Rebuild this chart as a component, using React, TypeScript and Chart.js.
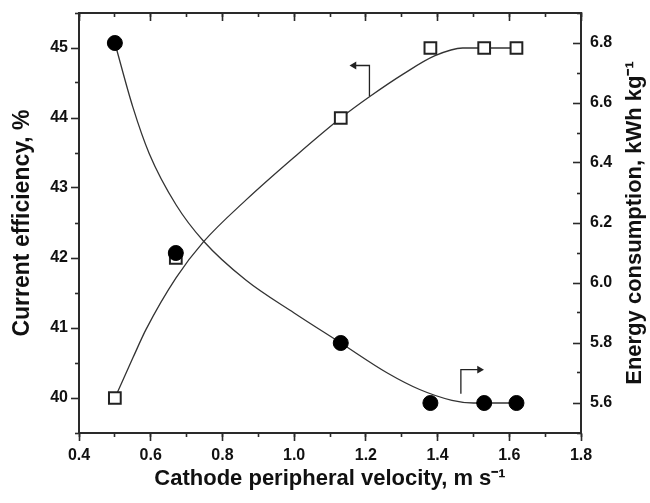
import React, { useEffect, useRef } from 'react';
import { Chart, registerables } from 'chart.js';

Chart.register(...registerables);

// ---- measured data points ----
const velocity = [0.5, 0.67, 1.13, 1.38, 1.53, 1.62];
const currentEfficiency = [40, 42, 44, 45, 45, 45];
const energyConsumption = [6.8, 6.1, 5.8, 5.6, 5.6, 5.6];

// ---- fitted curves ----
const effCurveX = [0.5, 0.55, 0.587, 0.671, 0.747, 0.866, 1.0, 1.13, 1.212, 1.305, 1.393, 1.47, 1.53, 1.62];
const effCurveY = [40.0, 40.57, 40.98, 41.72, 42.23, 42.83, 43.44, 44.0, 44.31, 44.63, 44.89, 45.0, 45.0, 45.0];
const energyCurveX = [0.5, 0.55, 0.596, 0.671, 0.747, 0.866, 1.0, 1.13, 1.26, 1.35, 1.44, 1.5, 1.53, 1.62];
const energyCurveY = [6.8, 6.587, 6.431, 6.26, 6.14, 6.009, 5.9, 5.8, 5.7, 5.645, 5.609, 5.6, 5.6, 5.6];

// ---- axis-indicator arrows ----
const leftArrowX = [1.21, 1.21, 1.167];
const leftArrowY = [44.31, 44.75, 44.75];
const rightArrowX = [1.465, 1.465, 1.517];
const rightArrowY = [5.631, 5.711, 5.711];

// ---- ticks ----
const xTicks = [0.4, 0.6, 0.8, 1.0, 1.2, 1.4, 1.6, 1.8];
const xMinorTicks = [0.4, 0.5, 0.6, 0.7, 0.8, 0.9, 1.0, 1.1, 1.2, 1.3, 1.4, 1.5, 1.6, 1.7, 1.8];
const yLeftTicks = [40, 41, 42, 43, 44, 45];
const yLeftMinorTicks = [39.5, 40.5, 41.5, 42.5, 43.5, 44.5, 45.5];
const yRightTicks = [5.6, 5.8, 6.0, 6.2, 6.4, 6.6, 6.8];
const yRightMinorTicks = [5.5, 5.7, 5.9, 6.1, 6.3, 6.5, 6.7, 6.9];

const xTitle = 'Cathode peripheral velocity, m s\u207B\u00B9';
const yLeftTitle = 'Current efficiency, %';
const yRightTitle = 'Energy consumption, kWh kg\u207B\u00B9';

const FONT = '"Liberation Sans", Arial, Helvetica, sans-serif';
const AXIS = '#2a2a2a';
const TEXT = '#111';

const pts = (xs: number[], ys: number[]) => xs.map((x, i) => ({ x, y: ys[i] }));
const last = (a: number[]) => a[a.length - 1];

const setTicks = (values: number[]) => (scale: any) => {
  scale.ticks = values.map((v) => ({ value: v }));
};

const fixSize = (w: number | null, h: number | null) => (scale: any) => {
  if (w !== null) scale.width = w;
  if (h !== null) scale.height = h;
  scale.paddingTop = 0;
  scale.paddingBottom = 0;
  scale.paddingLeft = 0;
  scale.paddingRight = 0;
};

const rightTitlePlugin = {
  id: 'rightTitle',
  afterDraw(chart: any) {
    const s = chart.scales.y2;
    const ctx = chart.ctx;
    ctx.save();
    ctx.translate(s.right - 15, (chart.chartArea.top + chart.chartArea.bottom) / 2);
    ctx.rotate(-Math.PI / 2);
    ctx.font = `bold 22px ${FONT}`;
    ctx.fillStyle = TEXT;
    ctx.textAlign = 'center';
    ctx.textBaseline = 'middle';
    ctx.fillText(yRightTitle, 0, 0);
    ctx.restore();
  },
};

const minorAxis = (axis: 'x' | 'y', position: string, min: number, max: number, values: number[], len: number, w: number | null, h: number | null) => ({
  type: 'linear',
  axis,
  position,
  min,
  max,
  weight: 0,
  afterBuildTicks: setTicks(values),
  afterFit: fixSize(w, h),
  ticks: { display: false },
  grid: { drawOnChartArea: false, tickLength: len, tickColor: AXIS, tickWidth: 1.6 },
  border: { display: false },
});

export default function App() {
  const ref = useRef<HTMLCanvasElement>(null);

  useEffect(() => {
    const canvas = ref.current;
    if (!canvas) return;
    const tickFont = { family: FONT, size: 16, weight: 'bold' as const };
    const titleFont = { family: FONT, size: 22, weight: 'bold' as const };

    const chart = new Chart(canvas, {
      type: 'scatter',
      data: {
        datasets: [
          {
            label: 'Energy consumption',
            data: pts(velocity, energyConsumption),
            yAxisID: 'y2',
            xAxisID: 'x',
            pointStyle: 'circle',
            pointRadius: 7.5,
            backgroundColor: '#000',
            borderColor: '#000',
            borderWidth: 1,
            showLine: false,
            order: 0,
          },
          {
            label: 'Current efficiency',
            data: pts(velocity, currentEfficiency),
            yAxisID: 'y',
            xAxisID: 'x',
            pointStyle: 'rect',
            pointRadius: 8.3,
            backgroundColor: '#fff',
            borderColor: '#222',
            borderWidth: 2,
            showLine: false,
            order: 1,
          },
          {
            type: 'line',
            label: 'Current efficiency fit',
            data: pts(effCurveX, effCurveY),
            yAxisID: 'y',
            xAxisID: 'x',
            pointRadius: 0,
            borderColor: '#333',
            borderWidth: 1.3,
            cubicInterpolationMode: 'monotone',
            fill: false,
            order: 2,
          },
          {
            type: 'line',
            label: 'Energy consumption fit',
            data: pts(energyCurveX, energyCurveY),
            yAxisID: 'y2',
            xAxisID: 'x',
            pointRadius: 0,
            borderColor: '#333',
            borderWidth: 1.3,
            cubicInterpolationMode: 'monotone',
            fill: false,
            order: 2,
          },
          {
            type: 'line',
            label: 'left arrow',
            data: pts(leftArrowX, leftArrowY),
            yAxisID: 'y',
            xAxisID: 'x',
            pointRadius: 0,
            borderColor: '#222',
            borderWidth: 1.3,
            tension: 0,
            fill: false,
            order: 3,
          },
          {
            label: 'left arrow head',
            data: [{ x: last(leftArrowX), y: last(leftArrowY) }],
            yAxisID: 'y',
            xAxisID: 'x',
            pointStyle: 'triangle',
            pointRotation: -90,
            pointRadius: 4.5,
            backgroundColor: '#222',
            borderColor: '#222',
            borderWidth: 0,
            showLine: false,
            order: 3,
          },
          {
            type: 'line',
            label: 'right arrow',
            data: pts(rightArrowX, rightArrowY),
            yAxisID: 'y2',
            xAxisID: 'x',
            pointRadius: 0,
            borderColor: '#222',
            borderWidth: 1.3,
            tension: 0,
            fill: false,
            order: 3,
          },
          {
            label: 'right arrow head',
            data: [{ x: last(rightArrowX), y: last(rightArrowY) }],
            yAxisID: 'y2',
            xAxisID: 'x',
            pointStyle: 'triangle',
            pointRotation: 90,
            pointRadius: 4.5,
            backgroundColor: '#222',
            borderColor: '#222',
            borderWidth: 0,
            showLine: false,
            order: 3,
          },
        ] as any,
      },
      options: {
        responsive: false,
        animation: false,
        devicePixelRatio: 1,
        events: [],
        layout: { padding: { top: 13, left: 0, right: 0, bottom: 0 } },
        plugins: { legend: { display: false }, tooltip: { enabled: false } },
        scales: {
          x: {
            type: 'linear',
            axis: 'x',
            position: 'bottom',
            min: 0.4,
            max: 1.8,
            weight: 1,
            afterBuildTicks: setTicks(xTicks),
            afterFit: fixSize(null, 70),
            ticks: {
              font: tickFont,
              color: TEXT,
              padding: 5,
              maxRotation: 0,
              callback: (v: any) => Number(v).toFixed(1),
            },
            grid: { drawOnChartArea: false, tickLength: 8, tickColor: AXIS, tickWidth: 1.6 },
            border: { display: true, color: AXIS, width: 2 },
            title: { display: true, text: xTitle, font: titleFont, color: TEXT, padding: { top: 0, bottom: 11 } },
          },
          xMinor: minorAxis('x', 'bottom', 0.4, 1.8, xMinorTicks, 4, null, 0),
          xTop: {
            type: 'linear',
            axis: 'x',
            position: 'top',
            min: 0.4,
            max: 1.8,
            weight: 1,
            afterBuildTicks: setTicks(xTicks),
            afterFit: fixSize(null, 0),
            ticks: { display: false },
            grid: { drawOnChartArea: false, tickLength: -8, tickColor: AXIS, tickWidth: 1.6 },
            border: { display: true, color: AXIS, width: 2 },
          },
          xTopMinor: minorAxis('x', 'top', 0.4, 1.8, xMinorTicks, -4, null, 0),
          y: {
            type: 'linear',
            axis: 'y',
            position: 'left',
            min: 39.5,
            max: 45.5,
            weight: 1,
            afterBuildTicks: setTicks(yLeftTicks),
            afterFit: fixSize(79, null),
            ticks: {
              font: tickFont,
              color: TEXT,
              padding: 3,
              callback: (v: any) => String(Math.round(Number(v))),
            },
            grid: { drawOnChartArea: false, tickLength: 8, tickColor: AXIS, tickWidth: 1.6 },
            border: { display: true, color: AXIS, width: 2 },
            title: { display: true, text: yLeftTitle, font: { family: FONT, size: 23, weight: 'bold' }, color: TEXT, padding: { top: 9, bottom: 0 } },
          },
          yMinor: minorAxis('y', 'left', 39.5, 45.5, yLeftMinorTicks, 4, 0, null),
          y2: {
            type: 'linear',
            axis: 'y',
            position: 'right',
            min: 5.5,
            max: 6.9,
            weight: 1,
            afterBuildTicks: setTicks(yRightTicks),
            afterFit: fixSize(69, null),
            ticks: {
              font: tickFont,
              color: TEXT,
              padding: 17,
              callback: (v: any) => Number(v).toFixed(1),
            },
            grid: { drawOnChartArea: false, tickLength: -8, tickColor: AXIS, tickWidth: 1.6 },
            border: { display: true, color: AXIS, width: 2 },
          },
          y2Minor: minorAxis('y', 'right', 5.5, 6.9, yRightMinorTicks, -4, 0, null),
        } as any,
      },
      plugins: [rightTitlePlugin],
    });

    return () => chart.destroy();
  }, []);

  return (
    <div style={{ position: 'fixed', left: 0, top: 0, width: 650, height: 503, background: '#fff' }}>
      <canvas ref={ref} width={650} height={503} style={{ display: 'block' }} />
    </div>
  );
}
